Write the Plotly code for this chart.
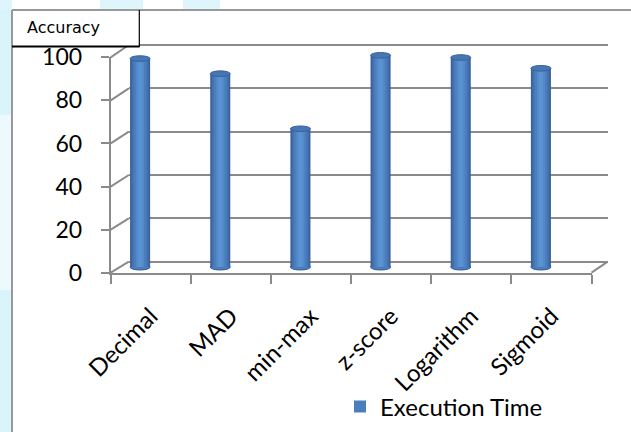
import plotly.graph_objects as go

# ---------------- data ----------------
CATEGORIES = ["Decimal", "MAD", "min-max", "z-score", "Logarithm", "Sigmoid"]
VALUES = [96.5, 89.5, 64, 98, 97, 92]
SERIES_NAME = "Execution Time"
Y_TICKS = [0, 20, 40, 60, 80, 100]
Y_TITLE_BOX = "Accuracy"

# ---------------- geometry (pixels) ----------------
W, H = 631, 432
FX0, FX1 = 110.7, 591.5          # front wall x extent
FY0, FY100 = 272.7, 57.3         # front y for 0 / 100
BX0, BX1 = 128.8, 607.7          # back wall x extent
BY0, BY100 = 261.7, 45.0         # back y for 0 / 100
CX0, CX1 = 100.0, 581.0          # bar (mid-depth) x extent
CY0, CY100 = 267.0, 51.0         # bar y for 0 / 100

def px(x):
    return x / W

def py(y):
    return 1 - y / H

def fy(v):
    return FY0 + (FY100 - FY0) * v / 100.0

def by(v):
    return BY0 + (BY100 - BY0) * v / 100.0

FONT = "Lato"
GRID = "#8a8a8a"

fig = go.Figure()

fig.add_trace(go.Scatter(x=CATEGORIES, y=VALUES, mode="markers",
                         marker=dict(opacity=0), hoverinfo="skip",
                         showlegend=False, xaxis="x", yaxis="y"))
fig.add_trace(go.Scatter(x=CATEGORIES, y=VALUES, mode="markers",
                         marker=dict(opacity=0), hoverinfo="skip",
                         showlegend=False, xaxis="x2", yaxis="y2"))

shades = [(0.25, "#3a6299", False), (0.21, "#4471ad", False),
          (0.16, "#4b7ebf", True), (0.10, "#538ac9", False),
          (0.05, "#5a92d2", False)]
for wdt, col, leg in shades:
    fig.add_trace(go.Bar(x=CATEGORIES, y=VALUES, width=wdt,
                         marker=dict(color=col, line=dict(width=0)),
                         name=SERIES_NAME, showlegend=leg,
                         xaxis="x3", yaxis="y3", hoverinfo="x+y"))

shapes = []
shapes.append(dict(type="rect", xref="paper", yref="paper", x0=0, x1=px(12),
                   y0=0, y1=1, fillcolor="#d9f4fb", line_width=0, layer="below"))
shapes.append(dict(type="rect", xref="paper", yref="paper", x0=0, x1=px(12),
                   y0=py(290), y1=py(115), fillcolor="#ecfafd", line_width=0, layer="below"))
for a, b in [(0, 12), (100, 143), (183, 220)]:
    shapes.append(dict(type="rect", xref="paper", yref="paper", x0=px(a), x1=px(b),
                       y0=py(10), y1=1, fillcolor="#def6fb", line_width=0, layer="below"))

for v in Y_TICKS:
    shapes.append(dict(type="line", xref="paper", yref="paper",
                       x0=px(FX0), y0=py(fy(v)), x1=px(BX0), y1=py(by(v)),
                       line=dict(color=GRID, width=2)))
shapes.append(dict(type="line", xref="paper", yref="paper",
                   x0=px(FX1), y0=py(fy(0)), x1=px(BX1), y1=py(by(0)),
                   line=dict(color=GRID, width=2)))

for i, v in enumerate(VALUES):
    shapes.append(dict(type="circle", xref="x3", yref="y3",
                       x0=i - 0.125, x1=i + 0.125, y0=-1.4, y1=1.4,
                       fillcolor="#4a7cbb", line=dict(color="#3a6299", width=1),
                       layer="below"))
    shapes.append(dict(type="circle", xref="x3", yref="y3",
                       x0=i - 0.125, x1=i + 0.125, y0=v - 1.3, y1=v + 1.3,
                       fillcolor="#4676b4", line=dict(color="#3a6299", width=1),
                       layer="above"))

shapes.append(dict(type="line", xref="paper", yref="paper", x0=px(12), x1=1,
                   y0=py(10), y1=py(10), line=dict(color="#999999", width=2)))
shapes.append(dict(type="line", xref="paper", yref="paper", x0=px(12), x1=px(12),
                   y0=0, y1=py(10), line=dict(color="#999999", width=2)))
shapes.append(dict(type="rect", xref="paper", yref="paper", x0=px(13), x1=px(139),
                   y0=py(47), y1=py(11), fillcolor="white", line_width=0))
shapes.append(dict(type="line", xref="paper", yref="paper", x0=px(12), x1=px(139.5),
                   y0=py(46.5), y1=py(46.5), line=dict(color="black", width=2)))
shapes.append(dict(type="line", xref="paper", yref="paper", x0=px(139.3), x1=px(139.3),
                   y0=py(47), y1=py(10), line=dict(color="black", width=1.2)))

bs = (BY0 - BY100) / 100.0
cs = (CY0 - CY100) / 100.0

fig.update_layout(
    width=W, height=H,
    margin=dict(l=0, r=0, t=0, b=0, autoexpand=False),
    paper_bgcolor="white", plot_bgcolor="rgba(0,0,0,0)",
    barmode="overlay",
    font=dict(family=FONT, size=22, color="black"),
    shapes=shapes,
    xaxis=dict(domain=[px(FX0), px(FX1)], type="category",
               categoryorder="array", categoryarray=CATEGORIES,
               range=[-0.5, len(CATEGORIES) - 0.5],
               showline=True, linecolor=GRID, linewidth=2,
               ticks="outside", tickson="boundaries", ticklen=9,
               tickcolor=GRID, tickwidth=2, tickangle=-45,
               tickfont=dict(family=FONT, size=24, color="black"),
               ticklabelstandoff=18, automargin=False,
               showgrid=False, zeroline=False, anchor="y", fixedrange=True),
    yaxis=dict(domain=[py(FY0), py(FY100)], range=[0, 100],
               tickvals=Y_TICKS, showline=True, linecolor=GRID, linewidth=2,
               ticks="outside", ticklen=8, tickcolor=GRID, tickwidth=2,
               tickfont=dict(family=FONT, size=23, color="black"),
               ticklabelstandoff=14, automargin=False,
               showgrid=False, zeroline=False, anchor="x", fixedrange=True),
    xaxis2=dict(domain=[px(BX0), px(BX1)], type="category",
                categoryorder="array", categoryarray=CATEGORIES,
                range=[-0.5, len(CATEGORIES) - 0.5], automargin=False,
                showticklabels=False, ticks="", showline=False,
                showgrid=False, zeroline=False, anchor="y2", fixedrange=True),
    yaxis2=dict(domain=[py(BY0 + 2 * bs), py(BY100 - 2 * bs)], range=[-2, 102],
                tickvals=Y_TICKS, showticklabels=False, ticks="", automargin=False,
                showgrid=True, gridcolor=GRID, gridwidth=2,
                showline=False, zeroline=False, anchor="x2", fixedrange=True),
    xaxis3=dict(domain=[px(CX0), px(CX1)], type="category",
                categoryorder="array", categoryarray=CATEGORIES,
                range=[-0.5, len(CATEGORIES) - 0.5], automargin=False,
                showticklabels=False, ticks="", showline=False,
                showgrid=False, zeroline=False, anchor="y3", fixedrange=True),
    yaxis3=dict(domain=[py(CY0 + 2 * cs), py(CY100 - 2 * cs)], range=[-2, 102],
                showticklabels=False, ticks="", showline=False, automargin=False,
                showgrid=False, zeroline=False, anchor="x3", fixedrange=True),
    legend=dict(x=px(340), y=py(407), xanchor="left", yanchor="middle",
                bgcolor="rgba(0,0,0,0)", font=dict(family=FONT, size=24, color="black")),
    annotations=[dict(text=Y_TITLE_BOX, xref="paper", yref="paper",
                      x=px(25), y=py(28), xanchor="left", yanchor="middle",
                      showarrow=False,
                      font=dict(family="DejaVu Sans", size=16, color="black"))],
)

fig.write_html("out.html")
